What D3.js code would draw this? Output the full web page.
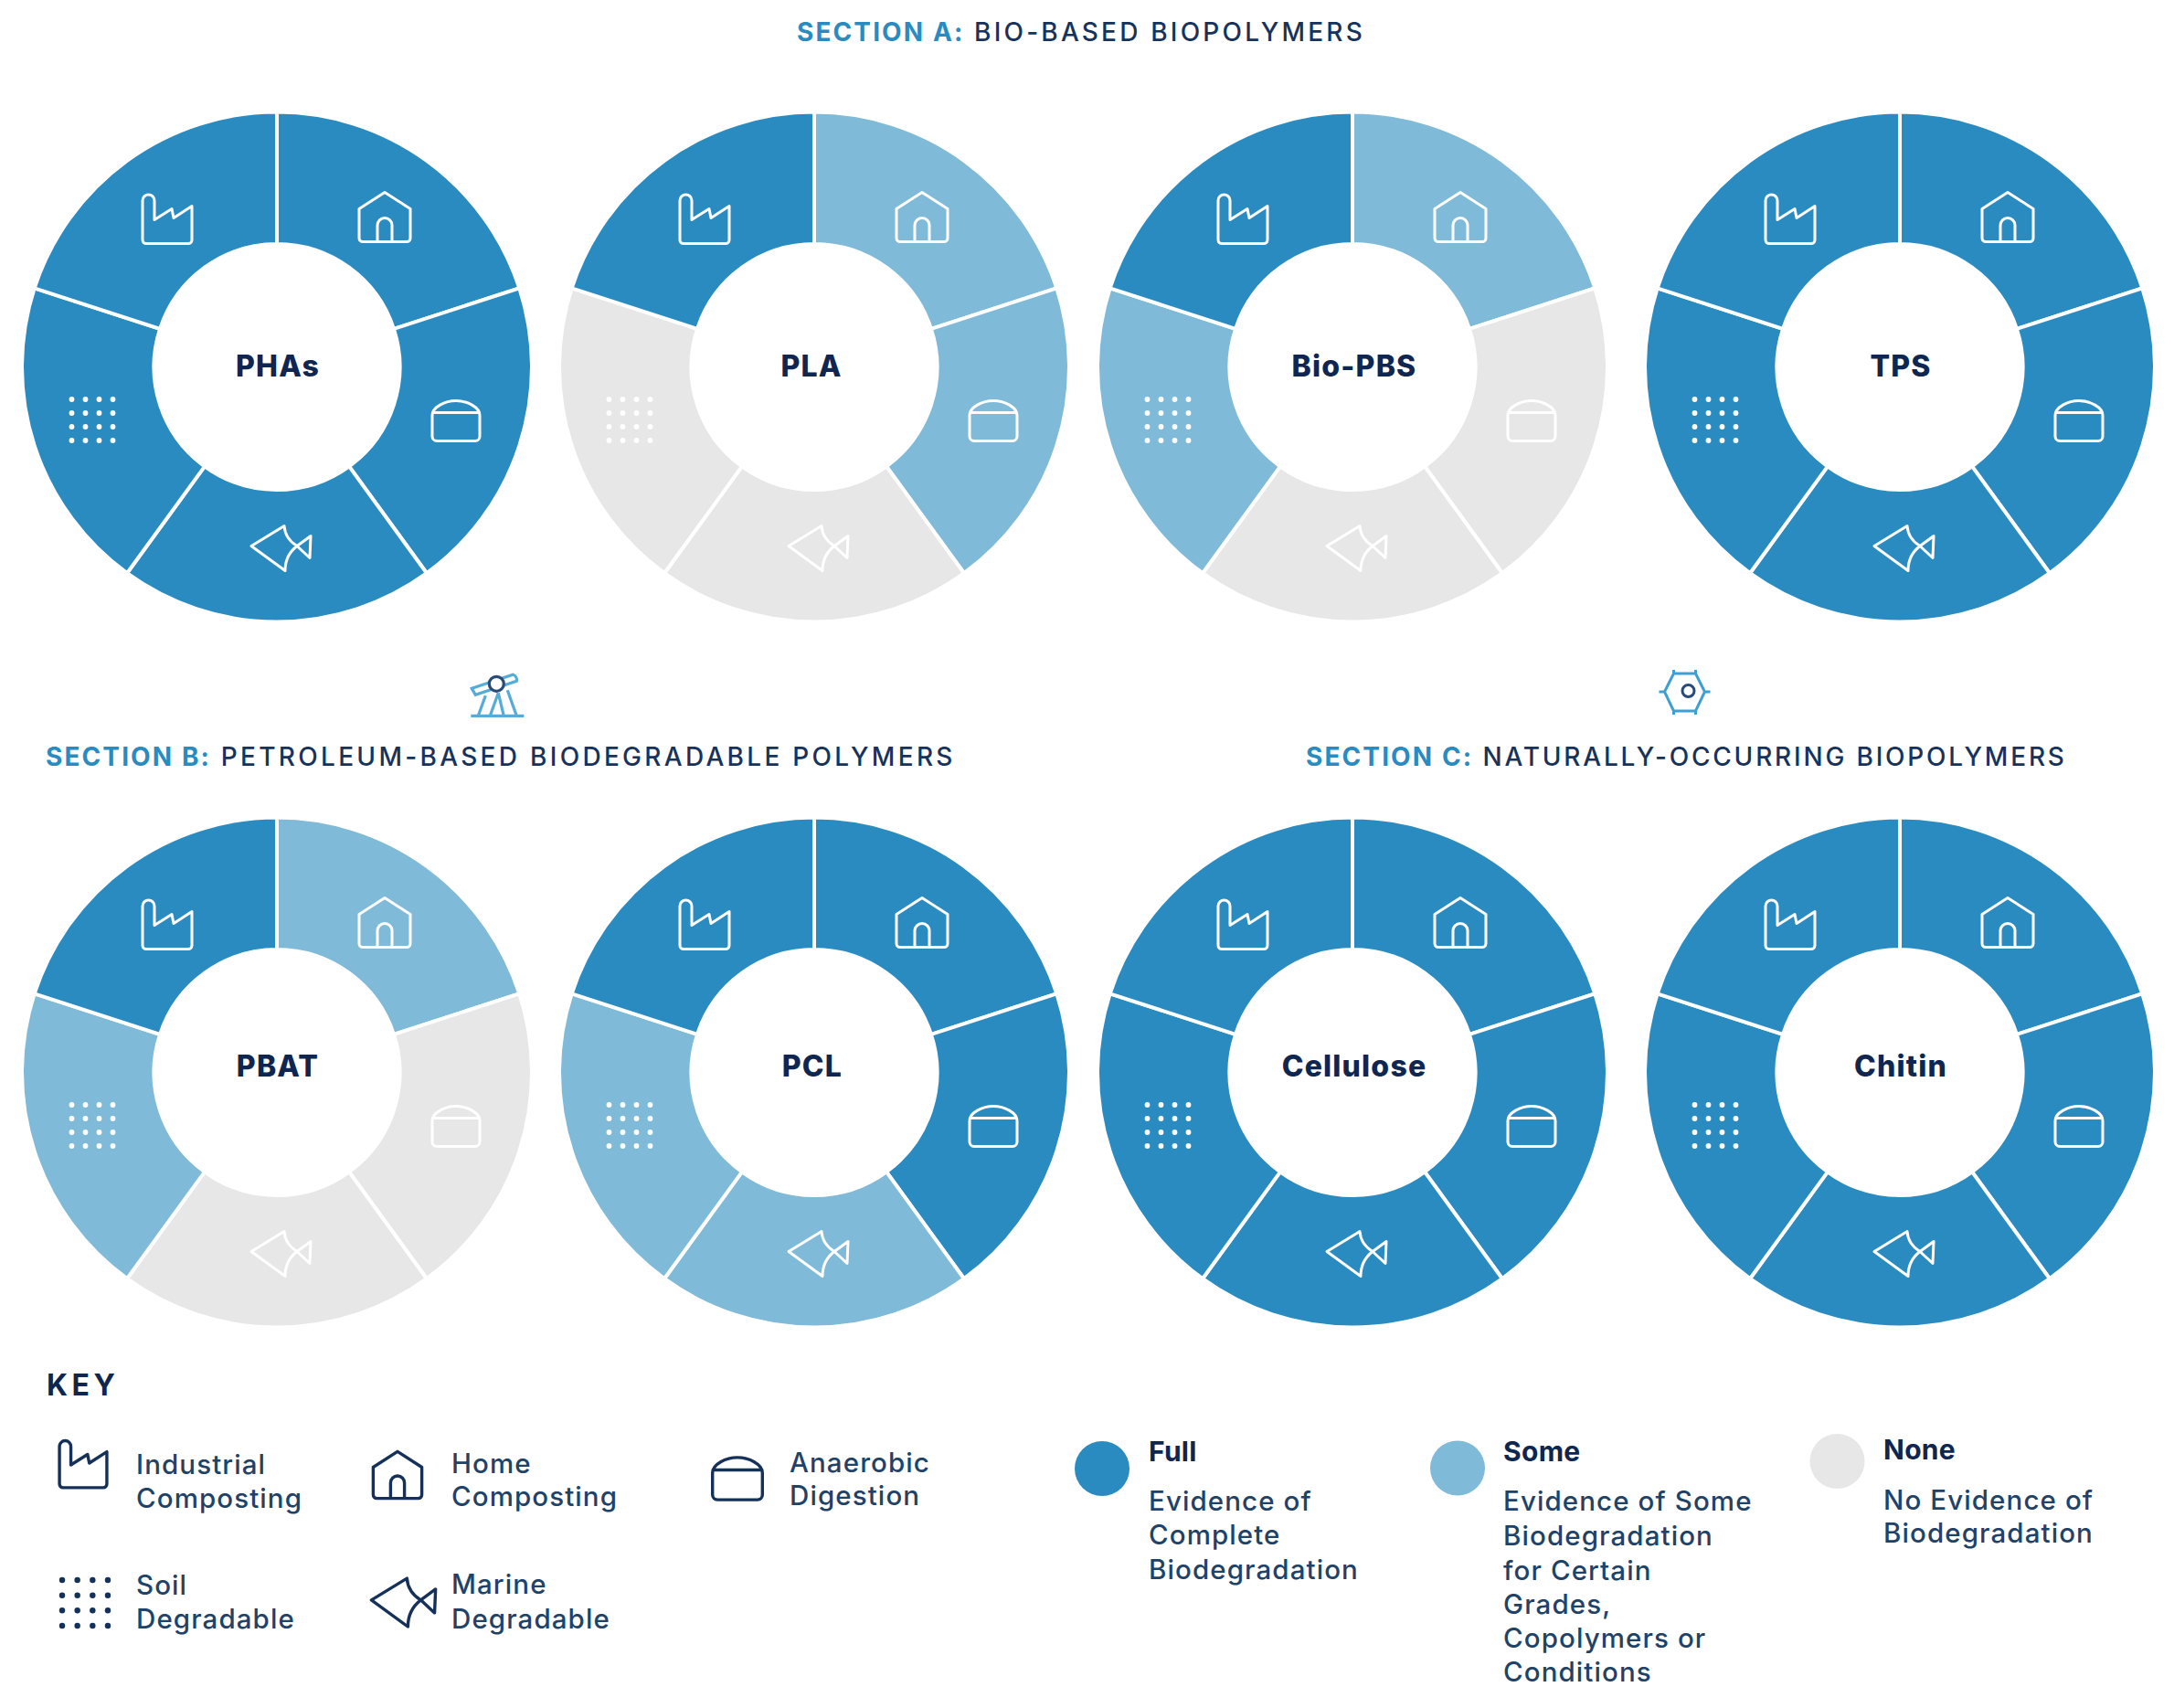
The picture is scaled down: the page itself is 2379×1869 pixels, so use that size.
<!DOCTYPE html>
<html lang="en">
<head>
<meta charset="utf-8">
<title>Biodegradability of biopolymers</title>
<script src="https://d3js.org/d3.v7.min.js"></script>
<style>
  html, body { margin: 0; background: #fff; }
  svg { display: block; font-family: Inter, "Open Sans", sans-serif; }
  .title-lead { font-weight: 700; fill: #2a8bc1; letter-spacing: 2.1px; }
  .title-rest { font-weight: 500; fill: #17335c; letter-spacing: 3.2px; }
  .ring-label { font-weight: 800; font-size: 32px; letter-spacing: 1.2px; fill: #0f2750; text-anchor: middle; }
  .key-text { font-weight: 500; font-size: 29.5px; letter-spacing: 1.1px; fill: #1f4368; }
  .key-head { font-weight: 700; font-size: 30px; letter-spacing: 0.3px; fill: #0f2750; }
</style>
</head>
<body>
<svg id="chart" width="2379" height="1869"></svg>
<script>
// clockwise from 12 o'clock
var routes = ["home", "digestion", "marine", "soil", "industrial"];

var polymers = ["PHAs", "PLA", "Bio-PBS", "TPS", "PBAT", "PCL", "Cellulose", "Chitin"];
var homeEvidence =       ["full", "some", "some", "full", "some", "full", "full", "full"];
var digestionEvidence =  ["full", "some", "none", "full", "none", "full", "full", "full"];
var marineEvidence =     ["full", "none", "none", "full", "none", "some", "full", "full"];
var soilEvidence =       ["full", "none", "some", "full", "some", "some", "full", "full"];
var industrialEvidence = ["full", "full", "full", "full", "full", "full", "full", "full"];

var levels = ["full", "some", "none"];
var levelNames = ["Full", "Some", "None"];
var levelNotes = [
  ["Evidence of", "Complete", "Biodegradation"],
  ["Evidence of Some", "Biodegradation", "for Certain", "Grades,", "Copolymers or", "Conditions"],
  ["No Evidence of", "Biodegradation"]
];
var routeKey = [
  ["Industrial", "Composting"], ["Home", "Composting"], ["Anaerobic", "Digestion"],
  ["Soil", "Degradable"], ["Marine", "Degradable"]
];

var color = d3.scaleOrdinal().domain(levels).range(["#2a8bc1", "#7fbad9", "#e7e7e7"]);

var svg = d3.select("#chart");
var navy = "#15315a";

// section titles
function title(x, y, lead, rest, spacing) {
  var t = svg.append("text").attr("x", x).attr("y", y).style("font-size", "28px");
  t.append("tspan").attr("class", "title-lead").text(lead);
  t.append("tspan").attr("class", "title-rest").style("letter-spacing", spacing + "px").text(" " + rest);
}
title(872, 45, "SECTION A:", "BIO-BASED BIOPOLYMERS", 3.2);
title(50, 838, "SECTION B:", "PETROLEUM-BASED BIODEGRADABLE POLYMERS", 3.3);
title(1429, 838, "SECTION C:", "NATURALLY-OCCURRING BIOPOLYMERS", 2.8);

// icons, all drawn round their own centre
var iconPaths = {
  industrial: "M-27,-20 a6.5,6.5 0 0 1 13,0 L-14,1 L5,-11 L7,-1 L27,-14 L27,23 a4,4 0 0 1 -4,4 L-23,27 a4,4 0 0 1 -4,-4 Z",
  home: "M0,-27 L28,-9 L28,23 a4,4 0 0 1 -4,4 L-24,27 a4,4 0 0 1 -4,-4 L-28,-9 Z M-8,27 L-8,9 a8,8 0 0 1 16,0 L8,27",
  digestion: "M-26,-6 C-26,-15 -12,-22 0,-22 C12,-22 26,-15 26,-6 L26,17 a5,5 0 0 1 -5,5 L-21,22 a5,5 0 0 1 -5,-5 Z M-26,-9 L26,-9",
  marine: "M-32,-2 L4,-24 Q5,-10 18,-2 L33,-13 L32,11 L18,-2 Q5,8 5,25 Z"
};

function drawIcon(g, name, x, y, scale, stroke, width) {
  var icon = g.append("g").attr("transform", "translate(" + x + "," + y + ") scale(" + scale + ")");
  if (name === "soil") {
    d3.range(16).forEach(function(i) {
      icon.append("circle")
        .attr("cx", (i % 4 - 1.5) * 15)
        .attr("cy", (Math.floor(i / 4) - 1.5) * 15)
        .attr("r", 2.9)
        .attr("fill", stroke);
    });
  } else {
    icon.append("path")
      .attr("d", iconPaths[name])
      .attr("fill", "none")
      .attr("stroke", stroke)
      .attr("stroke-width", width / scale)
      .attr("stroke-linejoin", "round");
  }
}

// rings
var ringCols = [303, 891, 1480, 2079];
var ringRows = [401.5, 1173.5];
var labelShift = [10, 4];
var labelCols = [304, 888, 1482, 2080, 304, 889, 1482, 2080];
var iconOffset = {
  home: [118, -164], digestion: [196, 59], marine: [4, 198], soil: [-202, 58], industrial: [-120, -162]
};

var pie = d3.pie().value(1).sort(null);
var arc = d3.arc().innerRadius(134.5).outerRadius(279);

polymers.forEach(function(name, i) {
  var row = i < 4 ? 0 : 1;
  var g = svg.append("g").attr("transform", "translate(" + ringCols[i % 4] + "," + ringRows[row] + ")");
  var evidence = [homeEvidence[i], digestionEvidence[i], marineEvidence[i], soilEvidence[i], industrialEvidence[i]];

  g.selectAll("path.slice")
    .data(pie(evidence))
    .join("path")
    .attr("class", "slice")
    .attr("d", arc)
    .attr("fill", function(d) { return color(d.data); })
    .attr("stroke", "#fff")
    .attr("stroke-width", 4);

  routes.forEach(function(route) {
    var off = iconOffset[route];
    drawIcon(g, route, off[0], off[1], 1, "#fff", 3);
  });

  svg.append("text")
    .attr("class", "ring-label")
    .attr("x", labelCols[i])
    .attr("y", ringRows[row] + labelShift[row])
    .text(name);
});

// small section icons
var pump = svg.append("g").attr("transform", "translate(543.3,748.3)")
  .attr("fill", "none").attr("stroke", "#55acd9").attr("stroke-width", 3.2);
pump.append("path").attr("d", "M-27,5 L18,-10 a6,6 0 0 1 4,7 L-23,12 Z M-12,13 L-20,35 M2,10 L-7,35 M2,10 L8,35 M12,7 L22,35 M-28,35 L30,35");
pump.append("circle").attr("r", 8).attr("fill", "#fff").attr("stroke", "#2a4a78");

var hex = svg.append("g").attr("transform", "translate(1843.5,757)")
  .attr("fill", "none").attr("stroke", "#3f9fd3").attr("stroke-width", 3);
hex.append("path").attr("d", "M-22,0 L-12,-20 L12,-20 L22,0 L12,21 L-12,21 Z M-28,0 L-22,0 M22,0 L28,0 M-12,-24 L-12,-20 M12,-24 L12,-20 M-12,21 L-12,25 M12,21 L12,25");
hex.append("circle").attr("cx", 4).attr("cy", -1).attr("r", 6.5).attr("stroke", "#2a4a78").attr("stroke-width", 3);

// key
svg.append("text").attr("x", 51).attr("y", 1527)
  .attr("fill", "#0f2750").style("font-weight", 700).style("font-size", "32px").style("letter-spacing", "4.5px")
  .text("KEY");

function keyLines(x, baselines, lines) {
  lines.forEach(function(line, i) {
    svg.append("text").attr("class", "key-text").attr("x", x).attr("y", baselines[i]).text(line);
  });
}

var keyIcons = [
  ["industrial", 91, 1602, 0.96], ["home", 435, 1614, 0.95], ["digestion", 807, 1618, 1.05],
  ["soil", 93, 1754, 1.11], ["marine", 441, 1753, 1.08]
];
var keyText = [[149, [1613, 1650]], [494, [1612, 1648]], [864, [1611, 1647]], [149, [1745, 1782]], [494, [1744, 1782]]];
keyIcons.forEach(function(k, i) {
  drawIcon(svg, k[0], k[1], k[2], k[3], navy, 3.4);
  keyLines(keyText[i][0], keyText[i][1], routeKey[i]);
});

var swatchX = [1206, 1595, 2010.5], swatchY = [1607, 1606.5, 1599];
var noteX = [1257, 1645, 2061], headY = [1599, 1599, 1597];
var noteY = [
  [1653, 1690, 1728],
  [1653, 1691, 1729, 1766, 1803, 1840],
  [1652, 1688]
];
levels.forEach(function(level, i) {
  svg.append("circle").attr("cx", swatchX[i]).attr("cy", swatchY[i]).attr("r", 30).attr("fill", color(level));
  svg.append("text").attr("class", "key-head").attr("x", noteX[i]).attr("y", headY[i]).text(levelNames[i]);
  keyLines(noteX[i], noteY[i], levelNotes[i]);
});
</script>
</body>
</html>
